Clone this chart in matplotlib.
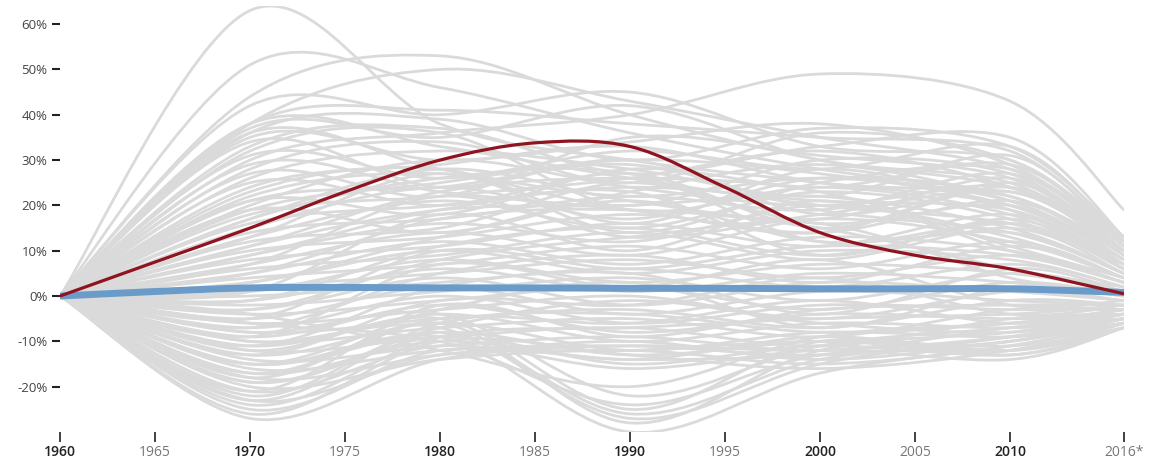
import numpy as np
import matplotlib
matplotlib.use("Agg")
import matplotlib.pyplot as plt
from matplotlib.path import Path
from matplotlib.patches import PathPatch

plt.rcParams["font.family"] = ["Open Sans", "DejaVu Sans"]

# ── Data ──
grey_years = [1960, 1970, 1980, 1990, 2000, 2010, 2016]
# one row per country: % change at 1970, 1980, 1990, 2000, 2010, 2016 (1960 = 0)
grey_values = [
    [63, 38, 30, 25, 20, 8],
    [51, 46, 36, 28, 22, 10],
    [44, 53, 40, 30, 24, 12],
    [38, 50, 43, 35, 28, 13],
    [30, 36, 40, 49, 43, 19],
    [42, 40, 45, 33, 30, 12],
    [38, 41, 38, 35, 32, 12],
    [37, 35, 42, 30, 25, 10],
    [36, 39, 30, 37, 33, 13],
    [35, 30, 34, 38, 29, 11],
    [33, 37, 27, 33, 35, 13],
    [31, 26, 32, 28, 33, 12],
    [28, 34, 25, 36, 30, 12],
    [27, 22, 35, 31, 26, 10],
    [26, 32, 28, 22, 31, 11],
    [24, 29, 33, 25, 22, 9],
    [22, 27, 20, 30, 27, 10],
    [21, 18, 28, 24, 29, 11],
    [20, 30, 24, 20, 24, 9],
    [19, 25, 30, 27, 20, 8],
    [38, 33, 26, 20, 16, 7],
    [36, 28, 22, 26, 21, 8],
    [34, 24, 30, 18, 23, 9],
    [32, 36, 19, 24, 18, 6],
    [18, 22, 26, 32, 24, 10],
    [17, 28, 21, 17, 26, 9],
    [16, 20, 24, 21, 19, 7],
    [15, 24, 17, 26, 22, 8],
    [14, 17, 22, 19, 27, 10],
    [13, 21, 15, 23, 17, 6],
    [12, 15, 25, 16, 20, 7],
    [11, 19, 20, 22, 15, 5],
    [10, 13, 18, 14, 21, 8],
    [9, 16, 12, 20, 13, 4],
    [8, 11, 16, 11, 18, 6],
    [7, 14, 9, 17, 12, 4],
    [6, 9, 14, 8, 15, 5],
    [5, 12, 7, 13, 10, 3],
    [4, 7, 11, 6, 12, 4],
    [3, 10, 5, 10, 8, 2],
    [2, 5, 8, 4, 9, 3],
    [1, 8, 3, 7, 5, 1],
    [0, 3, 6, 2, 7, 2],
    [-1, 6, 1, 5, 3, 0],
    [-2, 1, 4, -1, 5, 1],
    [-3, 4, -2, 3, 1, -1],
    [-4, -1, 2, -3, 3, 0],
    [-5, 2, -4, 1, -1, -2],
    [-6, -3, 0, -5, 1, -1],
    [-7, 0, -6, -2, -3, -3],
    [-8, -5, -3, -7, -1, -2],
    [-9, -2, -8, -4, -5, -4],
    [-10, -7, -5, -9, -3, -3],
    [-11, -4, -10, -6, -7, -5],
    [-12, -9, -7, -11, -5, -4],
    [-13, -6, -12, -8, -9, -6],
    [-14, -11, -9, -12, -7, -5],
    [-15, -8, -13, -10, -11, -7],
    [-16, -12, -11, -13, -9, -6],
    [-17, -10, -14, -9, -12, -7],
    [-18, -13, -10, -14, -10, -6],
    [-19, -9, -15, -11, -13, -7],
    [-20, -14, -12, -15, -11, -6],
    [-21, -11, -16, -12, -14, -7],
    [-23, -13, -12, -10, -12, -6],
    [-25, -12, -14, -13, -10, -5],
    [-27, -14, -11, -12, -9, -5],
    [-26, -10, -13, -16, -12, -6],
    [-22, -8, -26, -14, -10, -5],
    [-18, -6, -28, -12, -8, -4],
    [-15, -9, -30, -17, -11, -6],
    [-12, -5, -25, -10, -13, -7],
    [-10, -7, -27, -15, -9, -5],
    [-8, -4, -22, -11, -7, -4],
    [-6, -10, -24, -13, -12, -6],
    [-4, -12, -20, -9, -6, -3],
    [25, 20, 27, 15, 24, 9],
    [23, 28, 16, 28, 19, 7],
    [29, 23, 19, 14, 25, 10],
    [21, 24, 29, 19, 14, 5],
    [19, 14, 23, 29, 21, 8],
    [17, 26, 27, 12, 16, 6],
    [13, 27, 14, 25, 28, 11],
    [11, 23, 26, 23, 11, 4],
    [9, 19, 23, 9, 17, 6],
    [7, 22, 13, 18, 23, 9],
    [5, 17, 19, 15, 6, 2],
    [3, 13, 21, 12, 14, 5],
    [1, 18, 10, 21, 10, 3],
    [-1, 11, 15, 9, 16, 6],
    [-3, 8, 13, 16, 4, 1],
    [-5, 10, 6, 11, 9, 3],
    [-7, 5, 9, 3, 11, 4],
    [-9, 7, 2, 8, -2, -1],
    [-11, 2, 5, -4, 6, 1],
    [-13, -1, -2, 4, -4, -2],
    [-15, -3, 3, -7, 2, 0],
    [-17, -5, -6, -1, -6, -3],
    [-19, -7, -1, -6, -8, -4],
    [-21, -2, -9, -3, -2, -2],
    [-23, -6, -4, -8, -6, -3],
    [-24, -9, -7, -5, -4, -2],
]

hl_years = [1960, 1965, 1970, 1975, 1980, 1985, 1990, 1995, 2000, 2005, 2010, 2016]
red_values = [0, 7.5, 15, 23, 30, 33.8, 33, 24, 14, 9, 6, 0.5]
blue_values = [0, 1.0, 1.8, 1.9, 1.8, 1.8, 1.7, 1.7, 1.6, 1.6, 1.6, 0.8]

tick_years = [1960, 1965, 1970, 1975, 1980, 1985, 1990, 1995, 2000, 2005, 2010, 2016]
tick_labels = ["1960", "1965", "1970", "1975", "1980", "1985", "1990", "1995",
               "2000", "2005", "2010", "2016*"]
y_ticks = [-20, -10, 0, 10, 20, 30, 40, 50, 60]


def smooth_path(xs, ys):
    """Catmull-Rom curve through the points, drawn as cubic Bezier segments."""
    pts = np.column_stack([xs, ys]).astype(float)
    p = np.vstack([pts[0], pts, pts[-1]])
    verts = [pts[0]]
    codes = [Path.MOVETO]
    for i in range(len(pts) - 1):
        p0, p1, p2, p3 = p[i], p[i + 1], p[i + 2], p[i + 3]
        verts += [p1 + (p2 - p0) / 6, p2 - (p3 - p1) / 6, p2]
        codes += [Path.CURVE4] * 3
    return Path(verts, codes)


fig = plt.figure(figsize=(11.59, 4.66), dpi=100)
ax = fig.add_axes([60 / 1159, 34 / 466, (1124 - 60) / 1159, 426 / 466])

for row in grey_values:
    ax.add_patch(PathPatch(smooth_path(grey_years, [0] + row), fill=False,
                           edgecolor="#dadada", lw=2.0, capstyle="round"))

ax.add_patch(PathPatch(smooth_path(hl_years, blue_values), fill=False,
                       edgecolor="#6b9bc8", lw=5, zorder=4))
ax.add_patch(PathPatch(smooth_path(hl_years, red_values), fill=False,
                       edgecolor="#8f1420", lw=2.3, zorder=5))

ax.set_xlim(1960, 2016)
ax.set_ylim(-30, 64)
for s in ax.spines.values():
    s.set_visible(False)

ax.set_yticks(y_ticks)
ax.set_yticklabels([f"{v}%" for v in y_ticks])
ax.tick_params(axis="y", length=6, width=1.5, color="#222222", pad=3,
               labelsize=9.5, labelcolor="#444444")

ax.set_xticks(tick_years)
ax.set_xticklabels(tick_labels)
ax.tick_params(axis="x", length=7, width=1.3, color="#333333", pad=2,
               labelsize=10)
for lbl, yr in zip(ax.get_xticklabels(), tick_years):
    if yr % 10 == 0:
        lbl.set_fontweight("semibold")
        lbl.set_color("#222222")
    else:
        lbl.set_color("#777777")

fig.savefig("out.png", dpi=100)
